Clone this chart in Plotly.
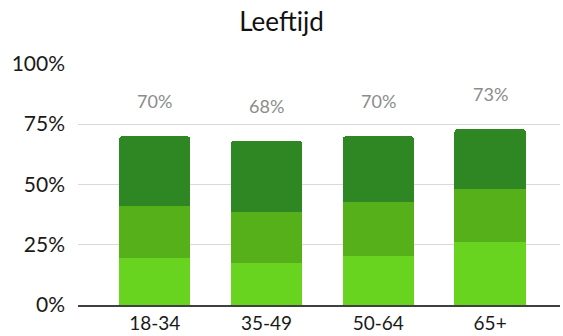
import plotly.graph_objects as go

# Age groups and the three stacked shares (in %)
categories = ["18-34", "35-49", "50-64", "65+"]
share_bottom = [19.5, 17.5, 20.5, 26.0]
share_middle = [21.5, 21.0, 22.0, 22.0]
share_top = [29.0, 29.5, 27.5, 25.0]

tick_values = [0, 25, 50, 75, 100]
tick_labels = ["0%", "25%", "50%", "75%", "100%"]

colors = ["#69D420", "#56B01A", "#2E8722"]
FONT = "Lato, 'Open Sans', sans-serif"

fig = go.Figure()
for name, vals, col in zip(["laag", "midden", "hoog"],
                           [share_bottom, share_middle, share_top], colors):
    fig.add_trace(go.Bar(
        x=categories, y=vals, name=name,
        marker=dict(color=col, line=dict(width=0)),
        width=0.64, hoverinfo="skip",
    ))

totals = [a + b + c for a, b, c in zip(share_bottom, share_middle, share_top)]
for cat, tot in zip(categories, totals):
    fig.add_annotation(
        x=cat, y=tot, text=f"{round(tot)}%", showarrow=False,
        yshift=35, font=dict(family=FONT, size=18, color="#8C8C8C"),
    )

fig.update_layout(
    width=563, height=336,
    barmode="stack", barcornerradius=4,
    showlegend=False,
    paper_bgcolor="white", plot_bgcolor="white",
    margin=dict(l=78, r=3, t=63, b=31),
    title=dict(text="Leeftijd", x=0.5, xanchor="center", y=0.935, yanchor="middle",
               font=dict(family=FONT, size=26, color="#111111")),
    font=dict(family=FONT, size=21, color="#262626"),
)
fig.update_xaxes(
    range=[-0.686, 3.625], showgrid=False, automargin=False,
    showline=True, linecolor="#404040", linewidth=1.5,
    ticks="", ticklabelstandoff=0,
    tickfont=dict(family=FONT, size=19, color="#1a1a1a"),
)
fig.update_yaxes(
    range=[0, 100.3], tickvals=tick_values, ticktext=tick_labels,
    showgrid=True, gridcolor="#D9D9D9", gridwidth=1, automargin=False,
    zeroline=False, showline=False, ticks="",
    ticklabelstandoff=12,
    tickfont=dict(family=FONT, size=21, color="#1a1a1a"),
)

fig.write_html("out.html")
